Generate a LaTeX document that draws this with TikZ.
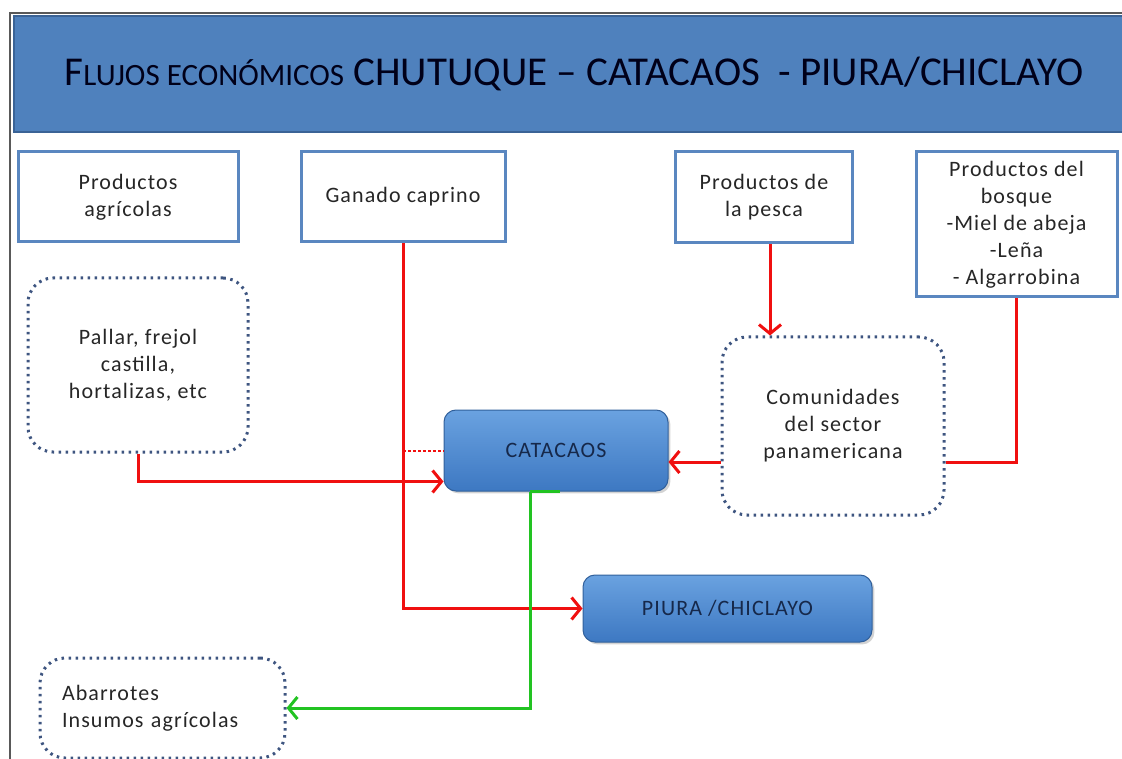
\documentclass[tikz,border=0pt]{standalone}
\usepackage{fontspec}
\setmainfont{Carlito}
\newfontfamily\spacedfont[LetterSpace=5]{Carlito}
\usetikzlibrary{positioning,arrows.meta,shadows}

\definecolor{titleblue}{HTML}{4F81BD}
\definecolor{titleedge}{HTML}{3A6396}
\definecolor{boxblue}{HTML}{5A87C0}
\definecolor{dotblue}{HTML}{3E5580}
\definecolor{cityblue}{HTML}{3D78C2}
\definecolor{citylight}{HTML}{6AA2E0}
\definecolor{citytext}{HTML}{16284A}
\definecolor{textgray}{HTML}{262626}
\definecolor{flowred}{HTML}{F01010}
\definecolor{flowgreen}{HTML}{22C322}

\begin{document}
\begin{tikzpicture}[x=1pt,y=-1pt,
	sourcebox/.style={draw=boxblue,line width=3pt,fill=white,inner sep=0pt,align=center,text=textgray,font=\spacedfont\fontsize{22}{27}\selectfont},
	dotbox/.style={draw=dotblue,line width=3pt,dash pattern=on 2.5pt off 4.5pt,rounded corners=25pt,inner sep=0pt,align=center,text=textgray,font=\spacedfont\fontsize{22}{27}\selectfont},
	cityblock/.style={draw=cityblue!80!black,line width=1pt,rounded corners=12pt,top color=citylight,bottom color=cityblue,drop shadow={opacity=0.35},inner sep=0pt,text=citytext,font=\spacedfont\fontsize{22}{24}\selectfont},
	redline/.style={flowred,line width=3pt},
	redflow/.style={redline,-{Straight Barb[length=9pt,width=22pt]}},
	greenline/.style={flowgreen,line width=3pt},
	greenflow/.style={greenline,-{Straight Barb[length=9pt,width=22pt]}}]
		\useasboundingbox (0,0) rectangle (1122,759);
		\draw[black!65,line width=1.5pt] (10,765) -- (10,13) -- (1130,13);
		\node[draw=titleedge,line width=1.5pt,fill=titleblue,minimum width=1116pt,minimum height=116pt,inner sep=0pt]	(bar)	at (572,74)	{};
		\node[text=black!90!blue,font=\fontsize{41}{43}\selectfont]		(title)	at (574,74)
			{F{\fontsize{31}{32}\selectfont LUJOS ECONÓMICOS}\ CHUTUQUE – CATACAOS\ \ - PIURA/CHICLAYO};

		\node[sourcebox,minimum width=220pt,minimum height=90pt]		(agricolas)	at (128,197)	{Productos\\agrícolas};
		\node[sourcebox,minimum width=204pt,minimum height=90pt]		(ganado)	at (403,197)	{Ganado caprino};
		\node[sourcebox,minimum width=177pt,minimum height=91pt]		(pesca)	at (764,197.5)	{Productos de\\la pesca};
		\node[sourcebox,minimum width=201pt,minimum height=145pt]		(bosque)	at (1016.5,224.5)	{Productos del\\bosque\\-Miel de abeja\\-Leña\\- Algarrobina};

		\node[dotbox,minimum width=220pt,minimum height=174pt]		(pallar)	at (138,365)	{Pallar, frejol\\castilla,\\hortalizas, etc};
		\node[dotbox,minimum width=222pt,minimum height=178pt]		(comunidades)	at (833,426)	{Comunidades\\del sector\\panamericana};
		\node[dotbox,text width=201pt,inner xsep=22pt,align=left,minimum height=100pt]	(abarrotes)	at (162.5,708)	{Abarrotes\\Insumos agrícolas};

		\node[cityblock,minimum width=224pt,minimum height=81pt]		(catacaos)	at (556,450.5)	{CATACAOS};
		\node[cityblock,minimum width=289pt,minimum height=67pt]		(piura)	at (727.5,608.5)	{PIURA /CHICLAYO};

		\coordinate (g1) at (ganado.south |- catacaos.west);
		\coordinate (p1) at ([yshift=-31pt]catacaos.west);
		\coordinate (c1) at ([yshift=-36pt]comunidades.west);
		\coordinate (v1) at ([xshift=-26pt]catacaos.south);
		\coordinate (f1) at ([xshift=6pt]pesca.south);

		\draw[redflow] (ganado.south) |- (piura.west);
		\draw[redflow] (pallar.south) |- (p1);
		\draw[redline,dotted,line width=2pt] (g1) -- (catacaos.west);
		\draw[redflow] (f1) -- (f1 |- comunidades.north);
		\draw[redline] (bosque.south) |- (c1 -| comunidades.east);
		\draw[redflow] (c1) -- (c1 -| catacaos.east);
		\draw[greenline] (v1) -- ([xshift=4pt]catacaos.south);
		\draw[greenflow] (v1) |- (abarrotes.east);
	\end{tikzpicture}
\end{document}
